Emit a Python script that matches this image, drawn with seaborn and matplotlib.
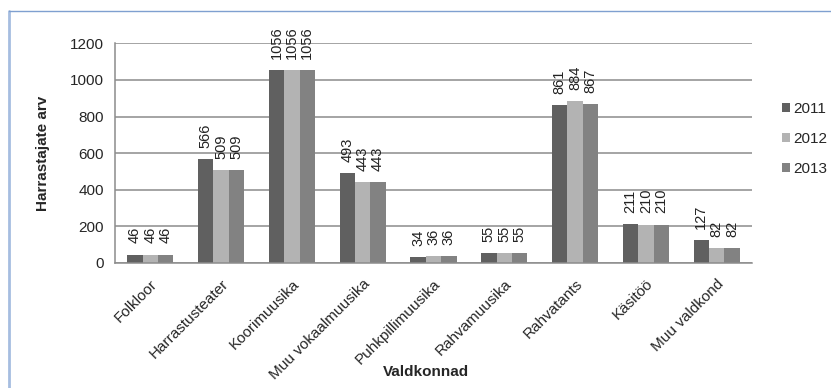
import matplotlib
matplotlib.use("Agg")
import matplotlib.pyplot as plt
from matplotlib.lines import Line2D
import pandas as pd
import seaborn as sns

categories = ["Folkloor", "Harrastusteater", "Koorimuusika", "Muu vokaalmuusika",
              "Puhkpillimuusika", "Rahvamuusika", "Rahvatants", "Käsitöö", "Muu valdkond"]
years = ["2011", "2012", "2013"]
values_2011 = [46, 566, 1056, 493, 34, 55, 861, 211, 127]
values_2012 = [46, 509, 1056, 443, 36, 55, 884, 210, 82]
values_2013 = [46, 509, 1056, 443, 36, 55, 867, 210, 82]
colors = ["#606060", "#b3b3b3", "#828282"]


def build_df():
    rows = []
    for year, vals in zip(years, [values_2011, values_2012, values_2013]):
        for cat, v in zip(categories, vals):
            rows.append({"Valdkond": cat, "Aasta": year, "arv": v})
    return pd.DataFrame(rows)


def run_main():
    df = build_df()
    sns.set_style("white")
    plt.rcParams["font.family"] = ["Liberation Sans", "DejaVu Sans"]

    fig = plt.figure(figsize=(8.31, 3.88), dpi=100)
    ax = fig.add_axes([115 / 831, 1 - 263 / 388, (752 - 115) / 831, (263 - 43.3) / 388])

    sns.barplot(data=df, x="Valdkond", y="arv", hue="Aasta", order=categories,
                hue_order=years, palette=colors, width=0.65, linewidth=0,
                saturation=1, ax=ax, errorbar=None)

    # value labels above bars
    for cont in ax.containers:
        ax.bar_label(cont, rotation=90, padding=8, fontsize=10.5, color="#222222")

    ax.set_ylim(0, 1200)
    ax.set_xlim(-0.5, len(categories) - 0.5)
    ax.set_yticks(range(0, 1201, 200))
    ax.grid(axis="y", color="#8c8c8c", linewidth=1.1)
    ax.set_axisbelow(True)
    for side in ["top", "right"]:
        ax.spines[side].set_visible(False)
    for side in ["left", "bottom"]:
        ax.spines[side].set_color("#8c8c8c")
        ax.spines[side].set_linewidth(1.1)

    # ticks: y outward, x at category boundaries
    ax.tick_params(axis="y", length=5, color="#8c8c8c", width=1.1, labelsize=11, pad=3)
    ax.set_xticks([i - 0.5 for i in range(len(categories) + 1)], minor=True)
    ax.tick_params(axis="x", which="minor", length=5, color="#8c8c8c", width=1.1, direction="out")
    ax.tick_params(axis="x", which="major", length=0, labelsize=11, pad=10)
    plt.setp(ax.get_xticklabels(), rotation=45, ha="right", rotation_mode="anchor")

    ax.set_ylabel("Harrastajate arv", fontsize=11, fontweight="bold")
    ax.set_xlabel("Valdkonnad", fontsize=11, fontweight="bold")
    ax.yaxis.set_label_coords(-0.102, 0.5)
    ax.xaxis.set_label_coords(0.4875, -0.462)

    # legend on the right
    handles, labels = ax.get_legend_handles_labels()
    ax.legend(handles, labels, loc="center left", bbox_to_anchor=(768 / 831, 1 - 139 / 388),
              bbox_transform=fig.transFigure, frameon=False, fontsize=11,
              handlelength=0.55, handleheight=0.55, handletextpad=0.2, labelspacing=1.05)

    # light blue chart border
    fig.add_artist(Line2D([9 / 831, 9 / 831], [0, 1 - 11 / 388], color="#a6bde0",
                          linewidth=2, transform=fig.transFigure))
    fig.add_artist(Line2D([9 / 831, 1], [1 - 11 / 388, 1 - 11 / 388], color="#7fa0d0",
                          linewidth=1, transform=fig.transFigure))

    fig.savefig("out.png", dpi=100)
    plt.close(fig)


if __name__ == "__main__":
    run_main()
